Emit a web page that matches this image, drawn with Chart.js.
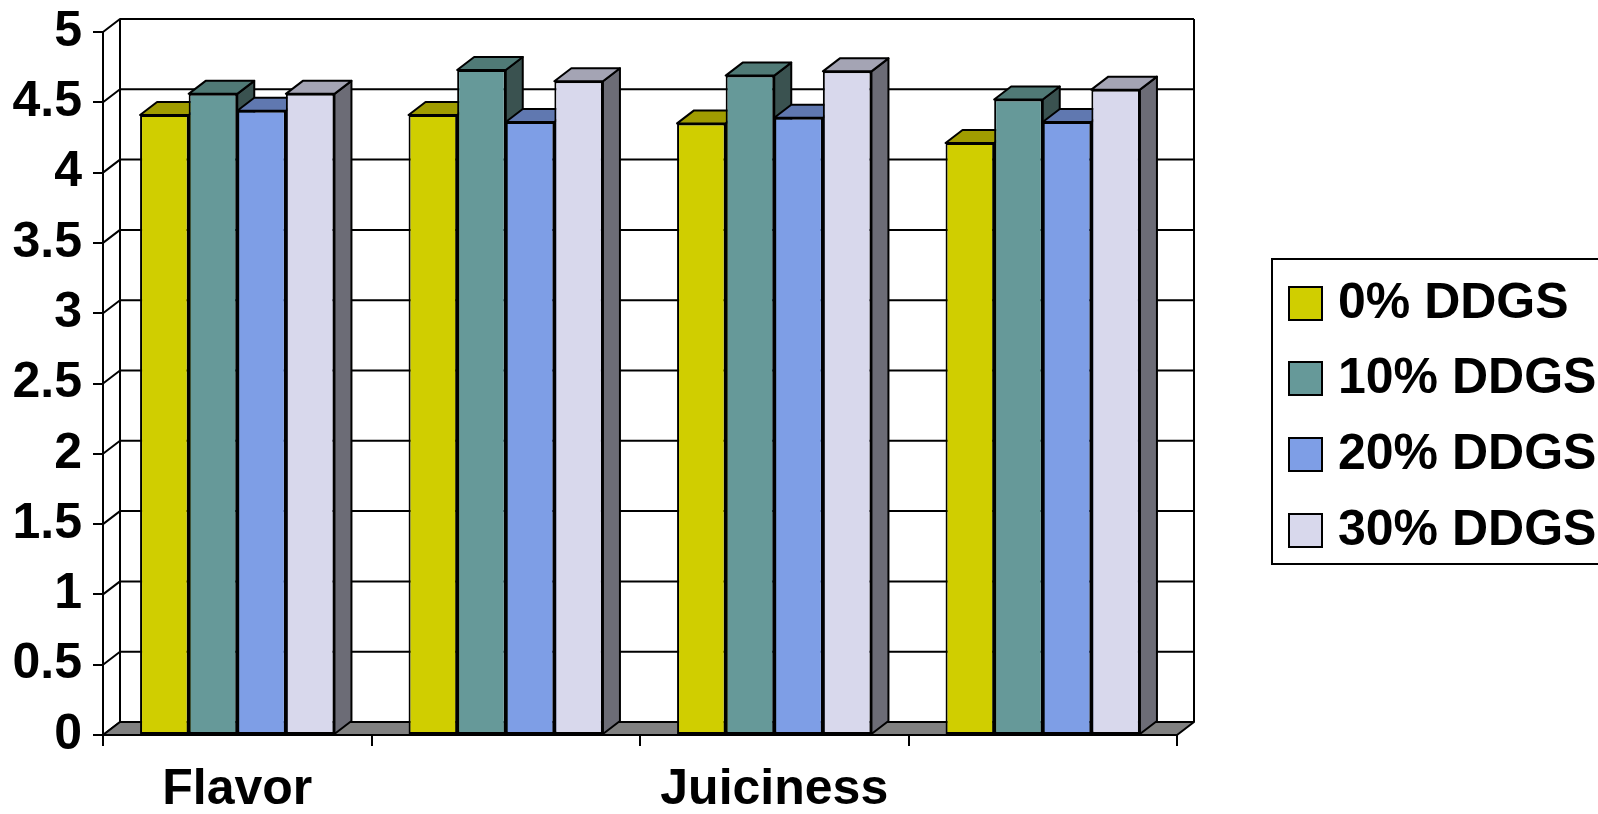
<!DOCTYPE html>
<html>
<head>
<meta charset="utf-8">
<script src="https://cdn.jsdelivr.net/npm/chart.js@4.4.1/dist/chart.umd.min.js"></script>
<style>
  html, body { margin: 0; padding: 0; background: #ffffff; }
  #wrap { width: 1598px; height: 814px; }
</style>
</head>
<body>
<div id="wrap"><canvas id="chart" width="1598" height="814"></canvas></div>
<script>
// Sensory panel scores by DDGS inclusion level
const categories = ["Flavor", "", "Juiciness", ""];
const ddgs0  = [4.41, 4.41, 4.35, 4.21];
const ddgs10 = [4.56, 4.73, 4.69, 4.52];
const ddgs20 = [4.44, 4.36, 4.39, 4.36];
const ddgs30 = [4.56, 4.65, 4.72, 4.59];
const seriesNames = ["0% DDGS", "10% DDGS", "20% DDGS", "30% DDGS"];

// front / top / side shades for each series
const frontColors = ["#D0CE00", "#669999", "#7E9EE6", "#D8D8EC"];
const topColors   = ["#A09C00", "#507A76", "#6078B0", "#A4A4B4"];
const sideColors  = ["#7A7800", "#3A5250", "#4A5E90", "#6C6C76"];

const FONT = "'Liberation Sans', Arial, sans-serif";
const DEPTH_X = 17, DEPTH_Y = -13;

function poly(ctx, pts, fill) {
  ctx.beginPath();
  ctx.moveTo(pts[0][0], pts[0][1]);
  for (let i = 1; i < pts.length; i++) ctx.lineTo(pts[i][0], pts[i][1]);
  ctx.closePath();
  if (fill) { ctx.fillStyle = fill; ctx.fill(); }
  ctx.stroke();
}

// walls, floor and extruded bars
const box3d = {
  id: 'box3d',
  beforeDatasetsDraw(chart) {
    const ctx = chart.ctx;
    const a = chart.chartArea;
    const y = chart.scales.y;
    ctx.save();
    ctx.strokeStyle = '#000';
    ctx.lineWidth = 2;
    ctx.lineJoin = 'round';

    // back wall grid and left wall diagonals
    y.ticks.forEach(t => {
      const py = y.getPixelForValue(t.value);
      ctx.beginPath();
      ctx.moveTo(a.left, py);
      ctx.lineTo(a.left + DEPTH_X, py + DEPTH_Y);
      ctx.lineTo(a.right + DEPTH_X, py + DEPTH_Y);
      ctx.stroke();
    });
    // back wall verticals
    ctx.beginPath();
    ctx.moveTo(a.left + DEPTH_X, a.top + DEPTH_Y);
    ctx.lineTo(a.left + DEPTH_X, a.bottom + DEPTH_Y);
    ctx.moveTo(a.right + DEPTH_X, a.top + DEPTH_Y);
    ctx.lineTo(a.right + DEPTH_X, a.bottom + DEPTH_Y);
    ctx.stroke();

    // floor
    poly(ctx, [
      [a.left, a.bottom], [a.right, a.bottom],
      [a.right + DEPTH_X, a.bottom + DEPTH_Y], [a.left + DEPTH_X, a.bottom + DEPTH_Y]
    ], '#808080');

    // bars, drawn left to right so later faces cover earlier sides
    const metas = chart.data.datasets.map((d, i) => chart.getDatasetMeta(i));
    for (let c = 0; c < categories.length; c++) {
      metas.forEach((meta, di) => {
        const el = meta.data[c];
        const p = el.getProps(['x', 'y', 'base', 'width'], true);
        const l = p.x - p.width / 2, r = p.x + p.width / 2;
        const top = p.y, bot = p.base;
        poly(ctx, [[r, top], [r + DEPTH_X, top + DEPTH_Y], [r + DEPTH_X, bot + DEPTH_Y], [r, bot]], sideColors[di]);
        poly(ctx, [[l, top], [l + DEPTH_X, top + DEPTH_Y], [r + DEPTH_X, top + DEPTH_Y], [r, top]], topColors[di]);
        el.draw(ctx, a);
      });
    }
    ctx.restore();
    return false;
  }
};

// boxed legend on the right
const sideLegend = {
  id: 'sideLegend',
  afterDraw(chart) {
    const ctx = chart.ctx;
    ctx.save();
    ctx.strokeStyle = '#000';
    ctx.lineWidth = 2;
    ctx.strokeRect(1272, 259, 400, 305);
    const rows = [303, 378, 454, 530];
    ctx.font = "bold 50px " + FONT;
    ctx.textBaseline = 'middle';
    ctx.textAlign = 'left';
    chart.data.datasets.forEach((ds, i) => {
      ctx.fillStyle = ds.backgroundColor;
      ctx.fillRect(1289, rows[i] - 16, 33, 33);
      ctx.strokeRect(1289, rows[i] - 16, 33, 33);
      ctx.fillStyle = '#000';
      ctx.fillText(ds.label, 1338, rows[i] + 1);
    });
    ctx.restore();
  }
};

const seriesValues = [ddgs0, ddgs10, ddgs20, ddgs30];

function noScalePadding(s) {
  s.paddingTop = 0; s.paddingBottom = 0; s.paddingLeft = 0; s.paddingRight = 0;
}

new Chart(document.getElementById('chart'), {
  type: 'bar',
  data: {
    labels: categories,
    datasets: seriesValues.map((vals, i) => ({
      label: seriesNames[i],
      data: vals,
      backgroundColor: frontColors[i],
      borderColor: '#000',
      borderWidth: 2,
      borderSkipped: false,
      barPercentage: 1,
      categoryPercentage: 0.724
    }))
  },
  options: {
    responsive: false,
    devicePixelRatio: 1,
    animation: false,
    layout: { padding: { left: 0, top: 32, right: 421, bottom: 0 } },
    plugins: { legend: { display: false }, tooltip: { enabled: false } },
    scales: {
      x: {
        afterFit(s) { s.height = 79; noScalePadding(s); },
        grid: { offset: true, drawOnChartArea: false, drawTicks: true, tickLength: 11, color: '#000', lineWidth: 2 },
        border: { display: true, color: '#000', width: 2 },
        ticks: { autoSkip: false, maxRotation: 0, padding: 14, color: '#000', font: { family: FONT, size: 50, weight: 'bold' } }
      },
      y: {
        min: 0, max: 5,
        afterFit(s) { s.width = 103; noScalePadding(s); },
        grid: { drawOnChartArea: false, drawTicks: true, tickLength: 10, color: '#000', lineWidth: 2 },
        border: { display: true, color: '#000', width: 2 },
        ticks: {
          stepSize: 0.5, padding: 11, color: '#000',
          font: { family: FONT, size: 50, weight: 'bold' },
          callback: v => String(v)
        }
      }
    }
  },
  plugins: [box3d, sideLegend]
});
</script>
</body>
</html>
